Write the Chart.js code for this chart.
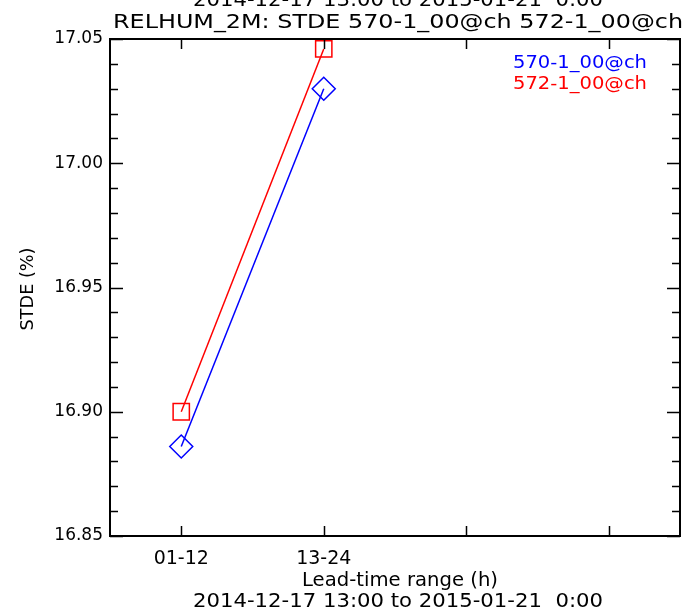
<!DOCTYPE html>
<html>
<head>
<meta charset="utf-8">
<script src="https://cdn.jsdelivr.net/npm/chart.js@4/dist/chart.umd.min.js"></script>
<style>
    html, body { margin: 0; padding: 0; background: #fff; }
</style>
</head>
<body>
<canvas id="chartCanvas" width="693" height="610"></canvas>
<script>
// Values
const leadTimes = ['01-12', '13-24', '', ''];
const stde570 = [16.886, 17.030];
const stde572 = [16.900, 17.046];
const seriesNames = ['570-1_00@ch', '572-1_00@ch'];
const yTicks = [16.85, 16.90, 16.95, 17.00, 17.05];
const yMinorTicks = [16.86, 16.87, 16.88, 16.89, 16.91, 16.92, 16.93, 16.94, 16.96, 16.97, 16.98, 16.99, 17.01, 17.02, 17.03, 17.04];
const periodText = '2014-12-17 13:00 to 2015-01-21  0:00';
const titleText = 'RELHUM_2M: STDE 570-1_00@ch 572-1_00@ch';
const xTitle = 'Lead-time range (h)';
const yTitle = 'STDE (%)';

const FONT = '"DejaVu Sans", sans-serif';

// draws text stretched to a given width, so the wide plotting font is imitated
function drawText(ctx, text, x, y, size, width, align, color) {
    ctx.save();
    ctx.font = size + 'px ' + FONT;
    ctx.fillStyle = color || '#000';
    ctx.textBaseline = 'alphabetic';
    ctx.textAlign = 'left';
    const w = ctx.measureText(text).width;
    const sx = width ? width / w : 1;
    let left = x;
    if (align === 'center') left = x - w * sx / 2;
    ctx.translate(left, y);
    ctx.scale(sx, 1);
    ctx.fillText(text, 0, 0);
    ctx.restore();
}

// box around the plot with inward ticks, plus titles and the text legend
const framePlugin = {
    id: 'frame',
    afterDraw(chart) {
        const ctx = chart.ctx;
        const a = chart.chartArea;
        const xs = chart.scales.x;
        const ys = chart.scales.y;

        ctx.save();
        ctx.strokeStyle = '#000';
        ctx.lineWidth = 2;
        ctx.strokeRect(a.left, a.top, a.right - a.left, a.bottom - a.top);

        ctx.lineWidth = 1.5;
        ctx.beginPath();
        leadTimes.forEach((lbl, i) => {
            const px = Math.round(xs.getPixelForTick(i)) + 0.5;
            ctx.moveTo(px, a.bottom); ctx.lineTo(px, a.bottom - 10);
            ctx.moveTo(px, a.top); ctx.lineTo(px, a.top + 10);
        });
        yTicks.forEach(v => {
            const py = Math.round(ys.getPixelForValue(v)) + 0.5;
            ctx.moveTo(a.left, py); ctx.lineTo(a.left + 13, py);
            ctx.moveTo(a.right, py); ctx.lineTo(a.right - 13, py);
        });
        yMinorTicks.forEach(v => {
            const py = Math.round(ys.getPixelForValue(v)) + 0.5;
            ctx.moveTo(a.left, py); ctx.lineTo(a.left + 8, py);
            ctx.moveTo(a.right, py); ctx.lineTo(a.right - 8, py);
        });
        ctx.stroke();
        ctx.restore();

        drawText(ctx, periodText, 398, 6, 20, 410, 'center');
        drawText(ctx, titleText, 398, 28, 20, 570, 'center');
        drawText(ctx, xTitle, 400, 586, 19, 196, 'center');
        drawText(ctx, periodText, 398, 607, 19, 410, 'center');

        ctx.save();
        ctx.translate(33, 289);
        ctx.rotate(-Math.PI / 2);
        drawText(ctx, yTitle, 0, 0, 17, 83, 'center');
        ctx.restore();

        chart.data.datasets.forEach((ds, i) => {
            drawText(ctx, ds.label, 513, 68 + i * 21, 17, 134, 'left', ds.borderColor);
        });
    }
};

const ctx = document.getElementById('chartCanvas');

window.myChart = new Chart(ctx, {
    type: 'line',
    data: {
        labels: leadTimes,
        datasets: [{
            label: seriesNames[0],
            data: stde570,
            borderColor: '#0000ff',
            backgroundColor: 'rgba(0,0,0,0)',
            borderWidth: 1.5,
            pointStyle: 'rectRot',
            pointRadius: 11.5,
            pointBorderWidth: 1.5,
            pointBorderColor: '#0000ff',
            pointBackgroundColor: 'rgba(0,0,0,0)',
            fill: false,
            tension: 0
        }, {
            label: seriesNames[1],
            data: stde572,
            borderColor: '#ff0000',
            backgroundColor: 'rgba(0,0,0,0)',
            borderWidth: 1.5,
            pointStyle: 'rect',
            pointRadius: 11.5,
            pointBorderWidth: 1.5,
            pointBorderColor: '#ff0000',
            pointBackgroundColor: 'rgba(0,0,0,0)',
            fill: false,
            tension: 0
        }]
    },
    options: {
        responsive: false,
        animation: false,
        devicePixelRatio: 1,
        layout: { padding: { top: 39, right: 9, left: 0, bottom: 0 } },
        plugins: {
            legend: { display: false },
            title: { display: false },
            tooltip: { enabled: false }
        },
        scales: {
            x: {
                type: 'category',
                offset: true,
                grid: { display: false, drawTicks: false },
                border: { display: false },
                ticks: {
                    color: '#000',
                    font: { family: FONT, size: 19 },
                    padding: 12,
                    maxRotation: 0,
                    autoSkip: false
                },
                afterFit: (s) => { s.height = 74; }
            },
            y: {
                min: 16.85,
                max: 17.05,
                grid: { display: false, drawTicks: false },
                border: { display: false },
                afterBuildTicks: (s) => { s.ticks = yTicks.map(v => ({ value: v })); },
                ticks: {
                    color: '#000',
                    font: { family: FONT, size: 17 },
                    padding: 7,
                    callback: (v) => Number(v).toFixed(2)
                },
                afterFit: (s) => { s.width = 110; }
            }
        }
    },
    plugins: [framePlugin]
});
</script>
</body>
</html>
